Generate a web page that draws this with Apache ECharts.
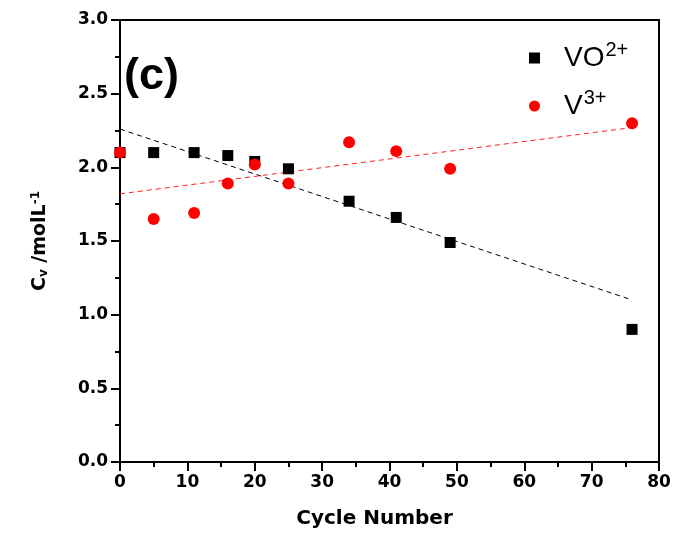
<!DOCTYPE html>
<html>
<head>
<meta charset="utf-8">
<script src="https://cdn.jsdelivr.net/npm/echarts@6/dist/echarts.min.js"></script>
<style>html,body{margin:0;padding:0;background:#fff}#c{width:682px;height:536px}</style>
</head>
<body>
<div id="c"></div>
<script>
// Data
const cycles = [0, 5, 11, 16, 20, 25, 34, 41, 49, 76];
const vo2Values = [2.10, 2.10, 2.10, 2.08, 2.04, 1.99, 1.77, 1.66, 1.49, 0.90];
const v3Values = [2.10, 1.65, 1.69, 1.89, 2.02, 1.89, 2.17, 2.11, 1.99, 2.30];
const vo2FitX = [0, 76];
const vo2FitY = [2.26, 1.10];
const v3FitX = [0, 76];
const v3FitY = [1.82, 2.27];
const xTicks = [0, 10, 20, 30, 40, 50, 60, 70, 80];
const yTicks = [0.0, 0.5, 1.0, 1.5, 2.0, 2.5, 3.0];

const pairs = (xs, ys) => xs.map((x, i) => [x, ys[i]]);
const bold = 'DejaVu Sans';
const chart = echarts.init(document.getElementById('c'), null, {renderer: 'canvas'});
chart.setOption({
  animation: false,
  backgroundColor: '#fff',
  grid: {left: 120, right: 23, top: 20, bottom: 74, show: true, borderColor: '#000', borderWidth: 2, backgroundColor: 'transparent'},
  xAxis: {
    type: 'value', min: xTicks[0], max: xTicks[xTicks.length - 1], interval: 10,
    name: 'Cycle Number', nameLocation: 'middle', nameGap: 47,
    nameTextStyle: {fontFamily: bold, fontWeight: 'bold', fontSize: 20, color: '#000', padding: [0, 30, 0, 0]},
    axisLine: {show: true, onZero: false, lineStyle: {color: '#000', width: 2}},
    axisTick: {show: true, inside: false, length: 9, lineStyle: {color: '#000', width: 2}},
    minorTick: {show: true, splitNumber: 2, length: 5, lineStyle: {color: '#000', width: 2}},
    axisLabel: {margin: 12, fontFamily: bold, fontWeight: 'bold', fontSize: 17, color: '#000'},
    splitLine: {show: false}
  },
  yAxis: {
    type: 'value', min: yTicks[0], max: yTicks[yTicks.length - 1], interval: 0.5,
    name: '{m|C}{sub|v}{m| /molL}{sup|-1}', nameLocation: 'middle', nameGap: 70,
    nameTextStyle: {
      fontFamily: bold, fontWeight: 'bold', fontSize: 19, color: '#000',
      rich: {
        m: {fontFamily: bold, fontWeight: 'bold', fontSize: 19, color: '#000'},
        sub: {fontFamily: bold, fontWeight: 'bold', fontSize: 12, color: '#000', verticalAlign: 'bottom', padding: [8, 0, 0, 0]},
        sup: {fontFamily: bold, fontWeight: 'bold', fontSize: 12, color: '#000', verticalAlign: 'top', padding: [0, 0, 8, 0]}
      }
    },
    axisLine: {show: true, onZero: false, lineStyle: {color: '#000', width: 2}},
    axisTick: {show: true, inside: false, length: 9, lineStyle: {color: '#000', width: 2}},
    minorTick: {show: true, splitNumber: 2, length: 5, lineStyle: {color: '#000', width: 2}},
    axisLabel: {margin: 12, fontFamily: bold, fontWeight: 'bold', fontSize: 17, color: '#000', formatter: v => v.toFixed(1)},
    splitLine: {show: false}
  },
  legend: {
    data: [{name: 'VO2+', icon: 'rect'}, {name: 'V3+', icon: 'circle'}],
    orient: 'vertical', left: 529, top: 40, padding: 0, itemGap: 14, itemWidth: 11, itemHeight: 11,
    formatter: n => n === 'VO2+' ? '{m|VO}{sup|2+}' : '{m|V}{sup|3+}',
    textStyle: {
      fontFamily: 'Liberation Sans', fontSize: 28, color: '#000', padding: [0, 0, 0, 19],
      rich: {
        m: {fontFamily: 'Liberation Sans', fontSize: 28, color: '#000', lineHeight: 36},
        sup: {fontFamily: 'Liberation Sans', fontSize: 20, color: '#000', verticalAlign: 'top', lineHeight: 36, padding: [0, 0, 14, 1]}
      }
    }
  },
  graphic: [{
    type: 'text', left: 124, top: 54,
    style: {text: '(c)', fontFamily: 'Liberation Sans', fontWeight: 'bold', fontSize: 45, fill: '#000'}
  }],
  series: [
    {name: 'VO2+ fit', type: 'line', data: pairs(vo2FitX, vo2FitY), symbol: 'none',
     lineStyle: {color: '#000', width: 1, type: [5, 4]}, z: 1},
    {name: 'V3+ fit', type: 'line', data: pairs(v3FitX, v3FitY), symbol: 'none',
     lineStyle: {color: '#ff2020', width: 1, type: [5, 4]}, z: 1},
    {name: 'VO2+', type: 'scatter', data: pairs(cycles, vo2Values), symbol: 'rect', symbolSize: 11,
     itemStyle: {color: '#000', opacity: 1}, z: 3},
    {name: 'V3+', type: 'scatter', data: pairs(cycles, v3Values), symbol: 'circle', symbolSize: 12,
     itemStyle: {color: '#ff0000', opacity: 1}, z: 4}
  ]
});
</script>
</body>
</html>
